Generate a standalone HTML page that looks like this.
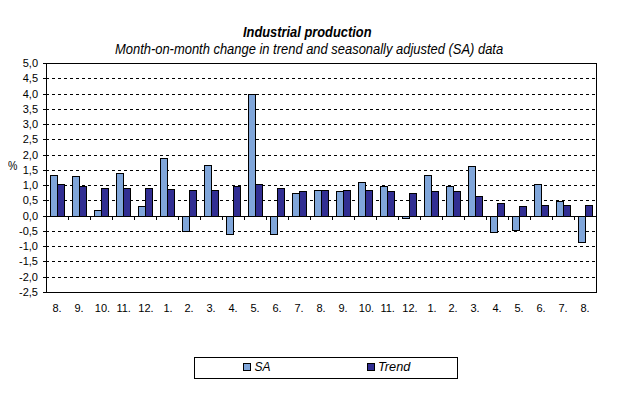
<!DOCTYPE html>
<html><head><meta charset="utf-8"><style>
html,body{margin:0;padding:0;background:#fff;}
body{width:618px;height:397px;position:relative;overflow:hidden;font-family:"Liberation Sans",sans-serif;color:#000;}
div,span{position:absolute;}
.vl{left:0;width:38px;text-align:right;font-size:11px;line-height:13px;white-space:nowrap;}
.cl{width:40px;text-align:center;font-size:11px;line-height:13px;white-space:nowrap;}
.t11{font-size:11px;line-height:13px;white-space:nowrap;}
.title{font-size:14px;font-weight:bold;font-style:italic;line-height:20px;white-space:nowrap;transform:scaleX(0.918);transform-origin:0 0;}
.sub{font-size:14px;font-style:italic;line-height:20px;white-space:nowrap;transform:scaleX(0.9235);transform-origin:0 0;}
.lg{font-size:12px;font-style:italic;line-height:14px;white-space:nowrap;}
</style></head><body>
<div style="left:46px;top:78px;width:550px;height:1px;background:repeating-linear-gradient(90deg,#000 0 3px,transparent 3px 6px)"></div>
<div style="left:46px;top:94px;width:550px;height:1px;background:repeating-linear-gradient(90deg,#000 0 3px,transparent 3px 6px)"></div>
<div style="left:46px;top:109px;width:550px;height:1px;background:repeating-linear-gradient(90deg,#000 0 3px,transparent 3px 6px)"></div>
<div style="left:46px;top:124px;width:550px;height:1px;background:repeating-linear-gradient(90deg,#000 0 3px,transparent 3px 6px)"></div>
<div style="left:46px;top:139px;width:550px;height:1px;background:repeating-linear-gradient(90deg,#000 0 3px,transparent 3px 6px)"></div>
<div style="left:46px;top:155px;width:550px;height:1px;background:repeating-linear-gradient(90deg,#000 0 3px,transparent 3px 6px)"></div>
<div style="left:46px;top:170px;width:550px;height:1px;background:repeating-linear-gradient(90deg,#000 0 3px,transparent 3px 6px)"></div>
<div style="left:46px;top:185px;width:550px;height:1px;background:repeating-linear-gradient(90deg,#000 0 3px,transparent 3px 6px)"></div>
<div style="left:46px;top:200px;width:550px;height:1px;background:repeating-linear-gradient(90deg,#000 0 3px,transparent 3px 6px)"></div>
<div style="left:46px;top:231px;width:550px;height:1px;background:repeating-linear-gradient(90deg,#000 0 3px,transparent 3px 6px)"></div>
<div style="left:46px;top:246px;width:550px;height:1px;background:repeating-linear-gradient(90deg,#000 0 3px,transparent 3px 6px)"></div>
<div style="left:46px;top:261px;width:550px;height:1px;background:repeating-linear-gradient(90deg,#000 0 3px,transparent 3px 6px)"></div>
<div style="left:46px;top:277px;width:550px;height:1px;background:repeating-linear-gradient(90deg,#000 0 3px,transparent 3px 6px)"></div>
<div style="left:46px;top:63px;width:551px;height:1px;background:#000"></div>
<div style="left:46px;top:292px;width:551px;height:1px;background:#000"></div>
<div style="left:46px;top:63px;width:1px;height:230px;background:#000"></div>
<div style="left:596px;top:63px;width:1px;height:230px;background:#000"></div>
<div style="left:43px;top:63px;width:3px;height:1px;background:#000"></div>
<div style="left:43px;top:78px;width:3px;height:1px;background:#000"></div>
<div style="left:43px;top:94px;width:3px;height:1px;background:#000"></div>
<div style="left:43px;top:109px;width:3px;height:1px;background:#000"></div>
<div style="left:43px;top:124px;width:3px;height:1px;background:#000"></div>
<div style="left:43px;top:139px;width:3px;height:1px;background:#000"></div>
<div style="left:43px;top:155px;width:3px;height:1px;background:#000"></div>
<div style="left:43px;top:170px;width:3px;height:1px;background:#000"></div>
<div style="left:43px;top:185px;width:3px;height:1px;background:#000"></div>
<div style="left:43px;top:200px;width:3px;height:1px;background:#000"></div>
<div style="left:43px;top:216px;width:3px;height:1px;background:#000"></div>
<div style="left:43px;top:231px;width:3px;height:1px;background:#000"></div>
<div style="left:43px;top:246px;width:3px;height:1px;background:#000"></div>
<div style="left:43px;top:261px;width:3px;height:1px;background:#000"></div>
<div style="left:43px;top:277px;width:3px;height:1px;background:#000"></div>
<div style="left:43px;top:292px;width:3px;height:1px;background:#000"></div>
<div style="left:50px;top:175px;width:8px;height:42px;background:#80a6da;border:1px solid #000;box-sizing:border-box"></div>
<div style="left:57px;top:184px;width:8px;height:33px;background:#312e92;border:1px solid #000;box-sizing:border-box"></div>
<div style="left:72px;top:176px;width:8px;height:41px;background:#80a6da;border:1px solid #000;box-sizing:border-box"></div>
<div style="left:79px;top:186px;width:8px;height:31px;background:#312e92;border:1px solid #000;box-sizing:border-box"></div>
<div style="left:94px;top:210px;width:8px;height:7px;background:#80a6da;border:1px solid #000;box-sizing:border-box"></div>
<div style="left:101px;top:188px;width:8px;height:29px;background:#312e92;border:1px solid #000;box-sizing:border-box"></div>
<div style="left:116px;top:173px;width:8px;height:44px;background:#80a6da;border:1px solid #000;box-sizing:border-box"></div>
<div style="left:123px;top:188px;width:8px;height:29px;background:#312e92;border:1px solid #000;box-sizing:border-box"></div>
<div style="left:138px;top:206px;width:8px;height:11px;background:#80a6da;border:1px solid #000;box-sizing:border-box"></div>
<div style="left:145px;top:188px;width:8px;height:29px;background:#312e92;border:1px solid #000;box-sizing:border-box"></div>
<div style="left:160px;top:158px;width:8px;height:59px;background:#80a6da;border:1px solid #000;box-sizing:border-box"></div>
<div style="left:167px;top:189px;width:8px;height:28px;background:#312e92;border:1px solid #000;box-sizing:border-box"></div>
<div style="left:182px;top:216px;width:8px;height:16px;background:#80a6da;border:1px solid #000;box-sizing:border-box"></div>
<div style="left:189px;top:190px;width:8px;height:27px;background:#312e92;border:1px solid #000;box-sizing:border-box"></div>
<div style="left:204px;top:165px;width:8px;height:52px;background:#80a6da;border:1px solid #000;box-sizing:border-box"></div>
<div style="left:211px;top:190px;width:8px;height:27px;background:#312e92;border:1px solid #000;box-sizing:border-box"></div>
<div style="left:226px;top:216px;width:8px;height:19px;background:#80a6da;border:1px solid #000;box-sizing:border-box"></div>
<div style="left:233px;top:186px;width:8px;height:31px;background:#312e92;border:1px solid #000;box-sizing:border-box"></div>
<div style="left:248px;top:94px;width:8px;height:123px;background:#80a6da;border:1px solid #000;box-sizing:border-box"></div>
<div style="left:255px;top:184px;width:8px;height:33px;background:#312e92;border:1px solid #000;box-sizing:border-box"></div>
<div style="left:270px;top:216px;width:8px;height:19px;background:#80a6da;border:1px solid #000;box-sizing:border-box"></div>
<div style="left:277px;top:188px;width:8px;height:29px;background:#312e92;border:1px solid #000;box-sizing:border-box"></div>
<div style="left:292px;top:193px;width:8px;height:24px;background:#80a6da;border:1px solid #000;box-sizing:border-box"></div>
<div style="left:299px;top:191px;width:8px;height:26px;background:#312e92;border:1px solid #000;box-sizing:border-box"></div>
<div style="left:314px;top:190px;width:8px;height:27px;background:#80a6da;border:1px solid #000;box-sizing:border-box"></div>
<div style="left:321px;top:190px;width:8px;height:27px;background:#312e92;border:1px solid #000;box-sizing:border-box"></div>
<div style="left:336px;top:191px;width:8px;height:26px;background:#80a6da;border:1px solid #000;box-sizing:border-box"></div>
<div style="left:343px;top:190px;width:8px;height:27px;background:#312e92;border:1px solid #000;box-sizing:border-box"></div>
<div style="left:358px;top:182px;width:8px;height:35px;background:#80a6da;border:1px solid #000;box-sizing:border-box"></div>
<div style="left:365px;top:190px;width:8px;height:27px;background:#312e92;border:1px solid #000;box-sizing:border-box"></div>
<div style="left:380px;top:186px;width:8px;height:31px;background:#80a6da;border:1px solid #000;box-sizing:border-box"></div>
<div style="left:387px;top:191px;width:8px;height:26px;background:#312e92;border:1px solid #000;box-sizing:border-box"></div>
<div style="left:402px;top:216px;width:8px;height:3px;background:#80a6da;border:1px solid #000;box-sizing:border-box"></div>
<div style="left:409px;top:193px;width:8px;height:24px;background:#312e92;border:1px solid #000;box-sizing:border-box"></div>
<div style="left:424px;top:175px;width:8px;height:42px;background:#80a6da;border:1px solid #000;box-sizing:border-box"></div>
<div style="left:431px;top:191px;width:8px;height:26px;background:#312e92;border:1px solid #000;box-sizing:border-box"></div>
<div style="left:446px;top:186px;width:8px;height:31px;background:#80a6da;border:1px solid #000;box-sizing:border-box"></div>
<div style="left:453px;top:191px;width:8px;height:26px;background:#312e92;border:1px solid #000;box-sizing:border-box"></div>
<div style="left:468px;top:166px;width:8px;height:51px;background:#80a6da;border:1px solid #000;box-sizing:border-box"></div>
<div style="left:475px;top:196px;width:8px;height:21px;background:#312e92;border:1px solid #000;box-sizing:border-box"></div>
<div style="left:490px;top:216px;width:8px;height:17px;background:#80a6da;border:1px solid #000;box-sizing:border-box"></div>
<div style="left:497px;top:203px;width:8px;height:14px;background:#312e92;border:1px solid #000;box-sizing:border-box"></div>
<div style="left:512px;top:216px;width:8px;height:15px;background:#80a6da;border:1px solid #000;box-sizing:border-box"></div>
<div style="left:519px;top:206px;width:8px;height:11px;background:#312e92;border:1px solid #000;box-sizing:border-box"></div>
<div style="left:534px;top:184px;width:8px;height:33px;background:#80a6da;border:1px solid #000;box-sizing:border-box"></div>
<div style="left:541px;top:205px;width:8px;height:12px;background:#312e92;border:1px solid #000;box-sizing:border-box"></div>
<div style="left:556px;top:201px;width:8px;height:16px;background:#80a6da;border:1px solid #000;box-sizing:border-box"></div>
<div style="left:563px;top:205px;width:8px;height:12px;background:#312e92;border:1px solid #000;box-sizing:border-box"></div>
<div style="left:578px;top:216px;width:8px;height:27px;background:#80a6da;border:1px solid #000;box-sizing:border-box"></div>
<div style="left:585px;top:205px;width:8px;height:12px;background:#312e92;border:1px solid #000;box-sizing:border-box"></div>
<div style="left:46px;top:216px;width:551px;height:1px;background:#000"></div>
<div style="left:68px;top:217px;width:1px;height:3px;background:#000"></div>
<div style="left:90px;top:217px;width:1px;height:3px;background:#000"></div>
<div style="left:112px;top:217px;width:1px;height:3px;background:#000"></div>
<div style="left:134px;top:217px;width:1px;height:3px;background:#000"></div>
<div style="left:156px;top:217px;width:1px;height:3px;background:#000"></div>
<div style="left:178px;top:217px;width:1px;height:3px;background:#000"></div>
<div style="left:200px;top:217px;width:1px;height:3px;background:#000"></div>
<div style="left:222px;top:217px;width:1px;height:3px;background:#000"></div>
<div style="left:244px;top:217px;width:1px;height:3px;background:#000"></div>
<div style="left:266px;top:217px;width:1px;height:3px;background:#000"></div>
<div style="left:288px;top:217px;width:1px;height:3px;background:#000"></div>
<div style="left:310px;top:217px;width:1px;height:3px;background:#000"></div>
<div style="left:332px;top:217px;width:1px;height:3px;background:#000"></div>
<div style="left:354px;top:217px;width:1px;height:3px;background:#000"></div>
<div style="left:376px;top:217px;width:1px;height:3px;background:#000"></div>
<div style="left:398px;top:217px;width:1px;height:3px;background:#000"></div>
<div style="left:420px;top:217px;width:1px;height:3px;background:#000"></div>
<div style="left:442px;top:217px;width:1px;height:3px;background:#000"></div>
<div style="left:464px;top:217px;width:1px;height:3px;background:#000"></div>
<div style="left:486px;top:217px;width:1px;height:3px;background:#000"></div>
<div style="left:508px;top:217px;width:1px;height:3px;background:#000"></div>
<div style="left:530px;top:217px;width:1px;height:3px;background:#000"></div>
<div style="left:552px;top:217px;width:1px;height:3px;background:#000"></div>
<div style="left:574px;top:217px;width:1px;height:3px;background:#000"></div>
<span class="vl" style="top:57px">5,0</span>
<span class="vl" style="top:72px">4,5</span>
<span class="vl" style="top:88px">4,0</span>
<span class="vl" style="top:103px">3,5</span>
<span class="vl" style="top:118px">3,0</span>
<span class="vl" style="top:133px">2,5</span>
<span class="vl" style="top:149px">2,0</span>
<span class="vl" style="top:164px">1,5</span>
<span class="vl" style="top:179px">1,0</span>
<span class="vl" style="top:194px">0,5</span>
<span class="vl" style="top:210px">0,0</span>
<span class="vl" style="top:225px">-0,5</span>
<span class="vl" style="top:240px">-1,0</span>
<span class="vl" style="top:255px">-1,5</span>
<span class="vl" style="top:271px">-2,0</span>
<span class="vl" style="top:286px">-2,5</span>
<span class="cl" style="left:37px;top:302px">8.</span>
<span class="cl" style="left:59px;top:302px">9.</span>
<span class="cl" style="left:82.5px;top:302px">10.</span>
<span class="cl" style="left:103.7px;top:302px">11.</span>
<span class="cl" style="left:126.0px;top:302px">12.</span>
<span class="cl" style="left:148.0px;top:302px">1.</span>
<span class="cl" style="left:169px;top:302px">2.</span>
<span class="cl" style="left:191px;top:302px">3.</span>
<span class="cl" style="left:213px;top:302px">4.</span>
<span class="cl" style="left:235px;top:302px">5.</span>
<span class="cl" style="left:257px;top:302px">6.</span>
<span class="cl" style="left:279px;top:302px">7.</span>
<span class="cl" style="left:301px;top:302px">8.</span>
<span class="cl" style="left:323px;top:302px">9.</span>
<span class="cl" style="left:346.5px;top:302px">10.</span>
<span class="cl" style="left:367.7px;top:302px">11.</span>
<span class="cl" style="left:390.0px;top:302px">12.</span>
<span class="cl" style="left:412.0px;top:302px">1.</span>
<span class="cl" style="left:433px;top:302px">2.</span>
<span class="cl" style="left:455px;top:302px">3.</span>
<span class="cl" style="left:477px;top:302px">4.</span>
<span class="cl" style="left:499px;top:302px">5.</span>
<span class="cl" style="left:521px;top:302px">6.</span>
<span class="cl" style="left:543px;top:302px">7.</span>
<span class="cl" style="left:565px;top:302px">8.</span>
<span class="t11" style="left:8px;top:160px;font-size:12px;transform:scaleX(0.88);transform-origin:0 0">%</span>
<span class="title" style="left:243px;top:22px">Industrial production</span>
<span class="sub" style="left:115px;top:39px">Month-on-month change in trend and seasonally adjusted (SA) data</span>
<div style="left:194px;top:357px;width:264px;height:22px;border:1px solid #000;box-sizing:border-box;background:#fff"></div>
<div style="left:243px;top:363px;width:8px;height:8px;background:#80a6da;border:1px solid #000;box-sizing:border-box"></div>
<div style="left:367px;top:363px;width:8px;height:8px;background:#312e92;border:1px solid #000;box-sizing:border-box"></div>
<span class="lg" style="left:254.5px;top:360px">SA</span>
<span class="lg" style="left:378px;top:360px;transform:scaleX(1.06);transform-origin:0 0">Trend</span>
</body></html>
